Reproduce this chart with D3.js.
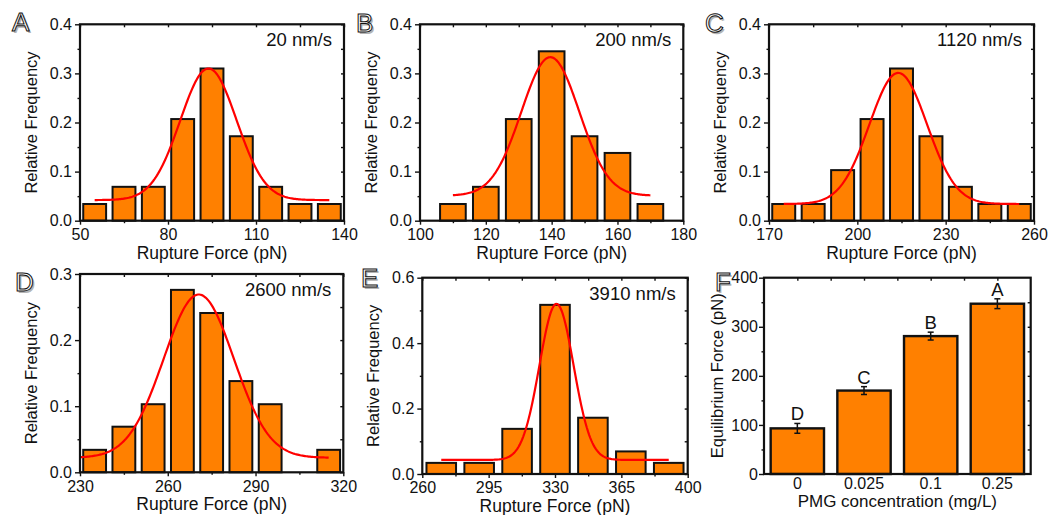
<!DOCTYPE html>
<html>
<head>
<meta charset="utf-8">
<script src="https://cdn.jsdelivr.net/npm/d3@7"></script>
<style>
  html, body { margin: 0; padding: 0; background: #fff; }
  svg text { font-family: "Liberation Sans", Arial, Helvetica, sans-serif; fill: #111; }
</style>
</head>
<body>
<svg id="fig" width="1051" height="515"></svg>
<script>
// ---- Rupture-force histograms (relative frequency per bin) ----
const binsA = [55, 65, 75, 85, 95, 105, 115, 125, 135];
const freqA = [0.034, 0.069, 0.069, 0.207, 0.310, 0.172, 0.069, 0.034, 0.034];
const binsB = [110, 120, 130, 140, 150, 160, 170];
const freqB = [0.034, 0.069, 0.207, 0.345, 0.172, 0.138, 0.034];
const binsC = [175, 185, 195, 205, 215, 225, 235, 245, 255];
const freqC = [0.034, 0.034, 0.103, 0.207, 0.310, 0.172, 0.069, 0.034, 0.034];
const binsD = [235, 245, 255, 265, 275, 285, 295, 305, 315];
const freqD = [0.034, 0.069, 0.103, 0.276, 0.241, 0.138, 0.103, 0, 0.034];
const binsE = [270, 290, 310, 330, 350, 370, 390];
const freqE = [0.034, 0.034, 0.138, 0.517, 0.172, 0.069, 0.034];

// Gaussian fit parameters: [y0, amplitude, centre, sigma, xStart, xEnd]
const fitA = [0.042, 0.268, 93.8, 9.6, 55, 135];
const fitB = [0.051, 0.282, 139.6, 8.8, 110, 170];
const fitC = [0.034, 0.267, 213.9, 9.8, 175, 255];
const fitD = [0.022, 0.247, 270.6, 12.0, 230, 315];
const fitE = [0.043, 0.477, 330.8, 9.0, 270, 390];

const speeds = ["20 nm/s", "200 nm/s", "1120 nm/s", "2600 nm/s", "3910 nm/s"];

// ---- Equilibrium force vs PMG concentration ----
const pmgConc = ["0", "0.025", "0.1", "0.25"];
const eqForce = [93, 170, 281, 347];
const eqError = [10, 8, 8, 10];
const eqGroup = ["D", "C", "B", "A"];

const ORANGE = "#ff8000";
const svg = d3.select("#fig");
svg.append("rect").attr("width", 1051).attr("height", 515).attr("fill", "#fff");

// outlined panel letter with a soft grey drop shadow
function panelLetter(letter, x, y) {
  const g = svg.append("g").style("text-rendering", "geometricPrecision");
  g.append("text").attr("x", x + 1.8).attr("y", y + 1.8).text(letter)
    .attr("font-size", 26).style("fill", "#b4b4b4");
  g.append("text").attr("x", x).attr("y", y).text(letter)
    .attr("font-size", 26).style("fill", "#ffffff").attr("stroke", "#111").attr("stroke-width", 1);
}

function frameAxes(g, x, y, box, opt) {
  const w = box.x1 - box.x0, h = box.y1 - box.y0;
  g.append("g").attr("transform", `translate(0,${h})`)
    .call(d3.axisBottom(x).tickValues(opt.xMajor).tickSizeInner(4).tickSizeOuter(0).tickPadding(4).tickFormat(d3.format("d")));
  g.append("g").attr("transform", `translate(0,${h})`)
    .call(d3.axisBottom(x).tickValues(opt.xMinor).tickSize(2.5).tickFormat(""));
  // mirrored inward ticks on the top edge
  g.append("g").call(d3.axisBottom(x).tickValues(opt.xMajor.concat(opt.xMinor)).tickSize(3).tickFormat(""));
  // left axis
  g.append("g").call(d3.axisLeft(y).tickValues(opt.yMajor).tickSizeInner(5).tickSizeOuter(0).tickPadding(opt.yPad).tickFormat(opt.yFmt));
  g.append("g").call(d3.axisLeft(y).tickValues(opt.yMinor).tickSize(2.5).tickFormat(""));
  g.append("g").attr("transform", `translate(${w},0)`)
    .call(d3.axisLeft(y).tickValues(opt.yMajor.concat(opt.yMinor)).tickSize(3).tickFormat(""));

  g.selectAll(".domain").remove();
  g.selectAll(".tick line").attr("stroke", "#111").attr("stroke-width", 1.4);
  g.selectAll(".tick text").attr("font-size", 16).style("fill", "#111");

  g.append("rect").attr("x", 0).attr("y", 0).attr("width", w).attr("height", h)
    .attr("fill", "none").attr("stroke", "#111").attr("stroke-width", 2.2);
}

function histogram(box, xDom, xMajor, xMinor, yMax, yMajor, yMinor, bins, freq, fit, speed, letter, lpos) {
  const w = box.x1 - box.x0, h = box.y1 - box.y0;
  const g = svg.append("g").attr("transform", `translate(${box.x0},${box.y0})`);
  const x = d3.scaleLinear().domain(xDom).range([0, w]);
  const y = d3.scaleLinear().domain([0, yMax]).range([h, 0]);
  const binW = bins[1] - bins[0];
  const bw = x(xDom[0] + binW * 0.78) - x(xDom[0]);

  g.selectAll("rect.bar").data(bins).join("rect").attr("class", "bar")
    .attr("x", d => x(d) - bw / 2)
    .attr("width", bw)
    .attr("y", (d, i) => y(freq[i]))
    .attr("height", (d, i) => h - y(freq[i]))
    .attr("fill", ORANGE).attr("stroke", "#111").attr("stroke-width", 2)
    .attr("display", (d, i) => freq[i] > 0 ? null : "none");

  const [y0, amp, xc, s, xa, xb] = fit;
  const gauss = t => y0 + amp * Math.exp(-((t - xc) ** 2) / (2 * s * s));
  const pts = d3.range(xa, xb + 0.001, (xb - xa) / 200).map(t => [t, gauss(t)]);
  g.append("path").datum(pts)
    .attr("d", d3.line().x(d => x(d[0])).y(d => y(d[1])))
    .attr("fill", "none").attr("stroke", "#ff0000").attr("stroke-width", 2.2);

  frameAxes(g, x, y, box, { xMajor, xMinor, yMajor, yMinor, yPad: 3, yFmt: d3.format(".1f") });

  g.append("text").attr("x", w - 12).attr("y", 22).attr("text-anchor", "end")
    .attr("font-size", 18.5).text(speed);
  g.append("text").attr("x", w / 2).attr("y", h + 38).attr("text-anchor", "middle")
    .attr("font-size", 17.5).text("Rupture Force (pN)");
  g.append("text").attr("transform", `translate(${-43},${h / 2}) rotate(-90)`)
    .attr("text-anchor", "middle").attr("font-size", 16.5).text("Relative Frequency");
  panelLetter(letter, lpos[0], lpos[1]);
}

const tenths = [0, 0.1, 0.2, 0.3, 0.4];
const halfTenths = [0.05, 0.15, 0.25, 0.35];

histogram({ x0: 80, x1: 344, y0: 24.3, y1: 220.7 }, [50, 140], [50, 80, 110, 140], [65, 95, 125],
  0.4, tenths, halfTenths, binsA, freqA, fitA, speeds[0], "A", [12, 31]);
histogram({ x0: 420, x1: 683.3, y0: 24.3, y1: 220.7 }, [100, 180], [100, 120, 140, 160, 180], [110, 130, 150, 170],
  0.4, tenths, halfTenths, binsB, freqB, fitB, speeds[1], "B", [356, 32]);
histogram({ x0: 769, x1: 1034, y0: 24.3, y1: 220.7 }, [170, 260], [170, 200, 230, 260], [185, 215, 245],
  0.4, tenths, halfTenths, binsC, freqC, fitC, speeds[2], "C", [705, 32]);
histogram({ x0: 80, x1: 343.3, y0: 274, y1: 472.3 }, [230, 320], [230, 260, 290, 320], [245, 275, 305],
  0.3, [0, 0.1, 0.2, 0.3], [0.05, 0.15, 0.25], binsD, freqD, fitD, speeds[3], "D", [15, 291]);
histogram({ x0: 422.3, x1: 687.7, y0: 277.7, y1: 474 }, [260, 400], [260, 295, 330, 365, 400], [277.5, 312.5, 347.5, 382.5],
  0.6, [0, 0.2, 0.4, 0.6], [0.1, 0.3, 0.5], binsE, freqE, fitE, speeds[4], "E", [361, 287]);

// ---- Panel F: bar chart with error bars ----
(function () {
  const box = { x0: 764, x1: 1030.7, y0: 277.7, y1: 474 };
  const w = box.x1 - box.x0, h = box.y1 - box.y0;
  const g = svg.append("g").attr("transform", `translate(${box.x0},${box.y0})`);
  const x = d3.scaleBand().domain(pmgConc).range([0, w]).paddingInner(0.2).paddingOuter(0.1);
  const y = d3.scaleLinear().domain([0, 400]).range([h, 0]);

  g.selectAll("rect.bar").data(pmgConc).join("rect").attr("class", "bar")
    .attr("x", d => x(d)).attr("width", x.bandwidth())
    .attr("y", (d, i) => y(eqForce[i])).attr("height", (d, i) => h - y(eqForce[i]))
    .attr("fill", ORANGE).attr("stroke", "#111").attr("stroke-width", 2.4);

  const eb = g.selectAll("g.err").data(pmgConc).join("g").attr("class", "err")
    .attr("transform", d => `translate(${x(d) + x.bandwidth() / 2},0)`);
  eb.append("line").attr("y1", (d, i) => y(eqForce[i] - eqError[i])).attr("y2", (d, i) => y(eqForce[i] + eqError[i]))
    .attr("stroke", "#111").attr("stroke-width", 1.5);
  eb.append("line").attr("x1", -3).attr("x2", 3)
    .attr("y1", (d, i) => y(eqForce[i] + eqError[i])).attr("y2", (d, i) => y(eqForce[i] + eqError[i]))
    .attr("stroke", "#111").attr("stroke-width", 1.5);
  eb.append("line").attr("x1", -3).attr("x2", 3)
    .attr("y1", (d, i) => y(eqForce[i] - eqError[i])).attr("y2", (d, i) => y(eqForce[i] - eqError[i]))
    .attr("stroke", "#111").attr("stroke-width", 1.5);
  eb.append("text").attr("text-anchor", "middle").attr("font-size", 18.5)
    .attr("y", (d, i) => y(eqForce[i] + eqError[i]) - 3).text((d, i) => eqGroup[i]);

  // category axis (labels only)
  g.append("g").attr("transform", `translate(0,${h})`)
    .call(d3.axisBottom(x).tickSize(0).tickPadding(4));
  g.append("g").call(d3.axisLeft(y).tickValues([0, 100, 200, 300, 400]).tickSizeInner(5).tickSizeOuter(0).tickPadding(1));
  g.append("g").call(d3.axisLeft(y).tickValues([50, 150, 250, 350]).tickSize(2.5).tickFormat(""));
  g.append("g").attr("transform", `translate(${w},0)`)
    .call(d3.axisLeft(y).tickValues([50, 100, 150, 200, 250, 300, 350]).tickSize(3).tickFormat(""));
  g.append("g").call(d3.axisBottom(d3.scaleLinear().domain([0, 4]).range([0, w])).tickValues([0.5, 1, 1.5, 2, 2.5, 3, 3.5]).tickSize(3).tickFormat(""));
  g.selectAll(".domain").remove();
  g.selectAll(".tick line").attr("stroke", "#111").attr("stroke-width", 1.4);
  g.selectAll(".tick text").attr("font-size", 16).style("fill", "#111");
  g.append("rect").attr("width", w).attr("height", h)
    .attr("fill", "none").attr("stroke", "#111").attr("stroke-width", 2.2);

  g.append("text").attr("x", w / 2).attr("y", h + 33).attr("text-anchor", "middle")
    .attr("font-size", 17).text("PMG concentration (mg/L)");
  g.append("text").attr("transform", `translate(${-41},${h / 2}) rotate(-90)`)
    .attr("text-anchor", "middle").attr("font-size", 16.5).text("Equilibrium Force (pN)");
  panelLetter("F", 715, 291);
})();
</script>
</body>
</html>
